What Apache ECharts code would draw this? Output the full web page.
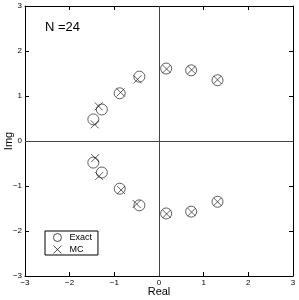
<!DOCTYPE html>
<html><head><meta charset="utf-8">
<script src="https://cdn.jsdelivr.net/npm/echarts@6/dist/echarts.min.js"></script>
<style>html,body{margin:0;padding:0;background:#fff}#c{width:299px;height:300px}</style>
</head><body><div id="c"></div>
<script>
const exactPoints = [
  [-0.44, 1.43], [-0.88, 1.06], [-1.28, 0.70], [-1.47, 0.48],
  [0.16, 1.61], [0.72, 1.57], [1.31, 1.35],
  [-0.44, -1.43], [-0.88, -1.06], [-1.28, -0.70], [-1.47, -0.48],
  [0.16, -1.61], [0.72, -1.57], [1.31, -1.35]
];
const mcPoints = [
  [-0.48, 1.37], [-0.86, 1.08], [-1.35, 0.77], [-1.44, 0.37],
  [0.17, 1.60], [0.73, 1.58], [1.31, 1.36],
  [-0.50, -1.40], [-0.85, -1.09], [-1.34, -0.78], [-1.43, -0.38],
  [0.17, -1.62], [0.73, -1.58], [1.31, -1.35]
];
const seriesNames = ['Exact', 'MC'];
const annotation = 'N =24';
const axisMin = -3, axisMax = 3, axisStep = 1;

const font = '"Liberation Sans", Arial, sans-serif';
const fmt = v => String(v).replace('-', '\u2212');
const crossPath = 'path://M0,0L10,10M10,0L0,10';
const chart = echarts.init(document.getElementById('c'));
const baseAxis = {
  min: axisMin, max: axisMax, interval: axisStep,
  axisLine: {onZero: false, lineStyle: {color: '#000', width: 1}},
  axisTick: {inside: true, length: 4, lineStyle: {color: '#000'}},
  splitLine: {show: false}
};
chart.setOption({
  animation: false,
  textStyle: {fontFamily: font},
  grid: {left: 25, right: 6, top: 6, bottom: 24, show: false, containLabel: false, outerBoundsMode: 'none'},
  xAxis: [
    Object.assign({}, baseAxis, {type: 'value', position: 'bottom',
      name: 'Real', nameLocation: 'middle', nameGap: 10, nameMoveOverlap: false,
      nameTextStyle: {fontSize: 11, color: '#000', fontFamily: font, verticalAlign: 'top'},
      axisLabel: {fontSize: 8, color: '#000', margin: 3, formatter: fmt, fontFamily: font}}),
    Object.assign({}, baseAxis, {type: 'value', position: 'top', axisLabel: {show: false}})
  ],
  yAxis: [
    Object.assign({}, baseAxis, {type: 'value', position: 'left',
      name: 'Img', nameLocation: 'middle', nameGap: 11, nameMoveOverlap: false,
      nameTextStyle: {fontSize: 11, color: '#000', fontFamily: font},
      axisLabel: {fontSize: 8, color: '#000', margin: 3, formatter: fmt, fontFamily: font}}),
    Object.assign({}, baseAxis, {type: 'value', position: 'right', axisLabel: {show: false}})
  ],
  legend: {
    orient: 'vertical', left: 45, top: 231, itemWidth: 8, itemHeight: 8, itemGap: 3,
    padding: [2, 6, 1, 8], borderColor: '#000', borderWidth: 1, backgroundColor: '#fff',
    textStyle: {fontSize: 9, color: '#000', fontFamily: font, padding: [0, 0, 0, 3]},
    data: [
      {name: seriesNames[0], icon: 'circle', itemStyle: {color: 'transparent', borderColor: '#000', borderWidth: 0.9}},
      {name: seriesNames[1], icon: crossPath, itemStyle: {color: 'transparent', borderColor: '#000', borderWidth: 0.9}}
    ]
  },
  graphic: [{type: 'text', left: 45, top: 21, style: {text: annotation, fontSize: 13, fill: '#000', fontFamily: font}}],
  series: [
    {name: seriesNames[0], type: 'scatter', data: exactPoints, symbol: 'circle', symbolSize: 11,
     itemStyle: {color: 'transparent', borderColor: '#222', borderWidth: 0.9}, z: 3,
     markLine: {silent: true, symbol: 'none', label: {show: false},
       lineStyle: {color: '#444', type: 'solid', width: 1},
       data: [{xAxis: 0}, {yAxis: 0}]}},
    {name: seriesNames[1], type: 'scatter', data: mcPoints, symbol: crossPath, symbolSize: 8,
     itemStyle: {color: 'transparent', borderColor: '#222', borderWidth: 0.9}, z: 4}
  ]
});
</script></body></html>
